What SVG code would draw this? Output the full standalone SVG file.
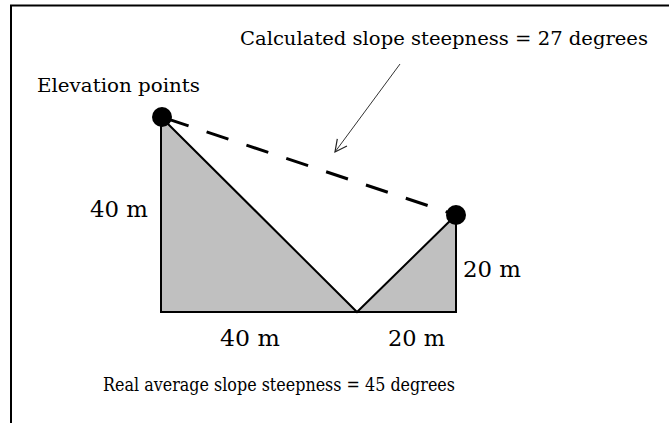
<svg xmlns="http://www.w3.org/2000/svg" width="669" height="423" viewBox="0 0 669 423">
<style>
  .lbl { font-family: "DejaVu Serif", "Liberation Serif", serif; fill: #000; }
  .small { font-size: 19px; }
  .big { font-size: 22px; }
  .dot { fill: #000; }
</style>
<defs>
  <marker id="openArrow" markerWidth="16" markerHeight="16" refX="14" refY="8" orient="auto" markerUnits="userSpaceOnUse">
    <path d="M2,2 L14,8 L2,14" fill="none" stroke="#222" stroke-width="1.2"/>
  </marker>
</defs>
<rect width="669" height="423" fill="#fff"/>
<path d="M11,423 V5.5 H669" fill="none" stroke="#000" stroke-width="2"/>

<g id="terrain">
  <polygon points="161,117 357,312 456,215 456,312 161,312" fill="#c0c0c0" stroke="#000" stroke-width="2" stroke-linejoin="miter"/>
</g>

<g id="connectors">
  <line x1="162" y1="117" x2="456" y2="215" stroke="#000" stroke-width="3" stroke-dasharray="23 19" stroke-dashoffset="37"/>
  <line x1="400" y1="64" x2="335" y2="152" stroke="#333" stroke-width="1" marker-end="url(#openArrow)"/>
</g>

<g id="point-left">
  <circle class="dot" cx="162" cy="117" r="10"/>
</g>
<g id="point-right">
  <circle class="dot" cx="456" cy="215" r="10"/>
</g>

<g id="labels">
  <text class="lbl small" x="240" y="45" textLength="408" lengthAdjust="spacingAndGlyphs">Calculated slope steepness = 27 degrees</text>
  <text class="lbl small" x="37" y="92" textLength="163" lengthAdjust="spacingAndGlyphs">Elevation points</text>
  <text class="lbl big" x="90" y="217" textLength="58" lengthAdjust="spacingAndGlyphs">40 m</text>
  <text class="lbl big" x="463" y="277" textLength="58" lengthAdjust="spacingAndGlyphs">20 m</text>
  <text class="lbl big" x="220" y="346" textLength="60" lengthAdjust="spacingAndGlyphs">40 m</text>
  <text class="lbl big" x="388" y="346" textLength="57" lengthAdjust="spacingAndGlyphs">20 m</text>
  <text class="lbl small" x="103" y="391" textLength="352" lengthAdjust="spacingAndGlyphs">Real average slope steepness = 45 degrees</text>
</g>
</svg>
